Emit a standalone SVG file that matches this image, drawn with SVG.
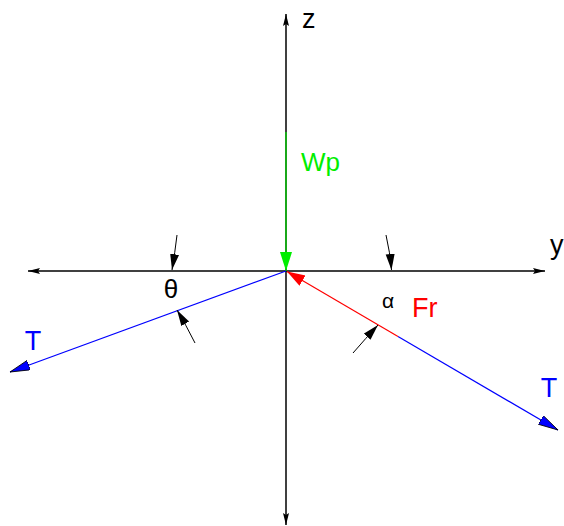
<svg xmlns="http://www.w3.org/2000/svg" width="564" height="526" viewBox="0 0 564 526">
<style>
.ax{stroke:#000;stroke-width:1.5;fill:none}
.lbl{font-family:"Liberation Sans",Arial,sans-serif}
.ang{stroke:#000;stroke-width:1;fill:none}
</style>
<defs>
<marker id="ha" markerUnits="userSpaceOnUse" markerWidth="14" markerHeight="10" refX="12" refY="4" orient="auto"><path d="M0,1 L12,4 L0,7 L2,4 Z" fill="#000"/></marker>
<marker id="hang" markerUnits="userSpaceOnUse" markerWidth="20" markerHeight="12" refX="16" refY="5" orient="auto"><path d="M0,0.5 L16,5 L0,9.5 Z" fill="#000"/></marker>
<marker id="hg" markerUnits="userSpaceOnUse" markerWidth="22" markerHeight="14" refX="19" refY="6" orient="auto"><path d="M0,0 L19,6 L0,12 Z" fill="#00ee00"/></marker>
<marker id="hr" markerUnits="userSpaceOnUse" markerWidth="22" markerHeight="14" refX="18" refY="6" orient="auto"><path d="M0,0 L18,6 L0,12 Z" fill="#ff0000"/></marker>
<marker id="hb" markerUnits="userSpaceOnUse" markerWidth="24" markerHeight="12" refX="20" refY="5" orient="auto"><path d="M0,0 L20,5 L0,10 Z" fill="#0000ff" stroke="#000" stroke-width="0.8"/></marker>
</defs>
<g id="axes">
<line class="ax" x1="286" y1="271" x2="286" y2="14" marker-end="url(#ha)"/>
<line class="ax" x1="286" y1="271" x2="286" y2="525" marker-end="url(#ha)"/>
<line class="ax" x1="286" y1="271" x2="545" y2="271" marker-end="url(#ha)"/>
<line class="ax" x1="286" y1="271" x2="28" y2="271" marker-end="url(#ha)"/>
</g>
<g id="connectors">
<line x1="286" y1="132" x2="286" y2="271" stroke="#00ee00" stroke-width="1.2" marker-end="url(#hg)"/>
<line x1="286" y1="271" x2="10" y2="372" stroke="#0000ff" stroke-width="1.2" marker-end="url(#hb)"/>
<line x1="398" y1="336.5" x2="558" y2="430" stroke="#0000ff" stroke-width="1.2" marker-end="url(#hb)"/>
<line x1="398" y1="336.5" x2="287" y2="271.5" stroke="#ff0000" stroke-width="1.2" marker-end="url(#hr)"/>
<path class="ang" d="M177,235 Q175,252 172,270" marker-end="url(#hang)"/>
<path class="ang" d="M195,343 Q186,325 177,310" marker-end="url(#hang)"/>
<path class="ang" d="M386,235 Q390,252 391.5,270" marker-end="url(#hang)"/>
<path class="ang" d="M353,353 Q366,338 378,325" marker-end="url(#hang)"/>
</g>
<g id="labels" class="lbl">
<text x="302" y="28" font-size="27" fill="#000">z</text>
<text x="550" y="254" font-size="27" fill="#000">y</text>
<text x="301" y="171" font-size="26" fill="#00ee00">Wp</text>
<text x="171" y="298" font-size="26" fill="#000" text-anchor="middle">θ</text>
<text x="388" y="308" font-size="21" fill="#000" text-anchor="middle">α</text>
<text x="412" y="317" font-size="27" fill="#ff0000">Fr</text>
<text x="33" y="350" font-size="27" fill="#0000ff" text-anchor="middle">T</text>
<text x="549" y="397" font-size="27" fill="#0000ff" text-anchor="middle">T</text>
</g>
</svg>
